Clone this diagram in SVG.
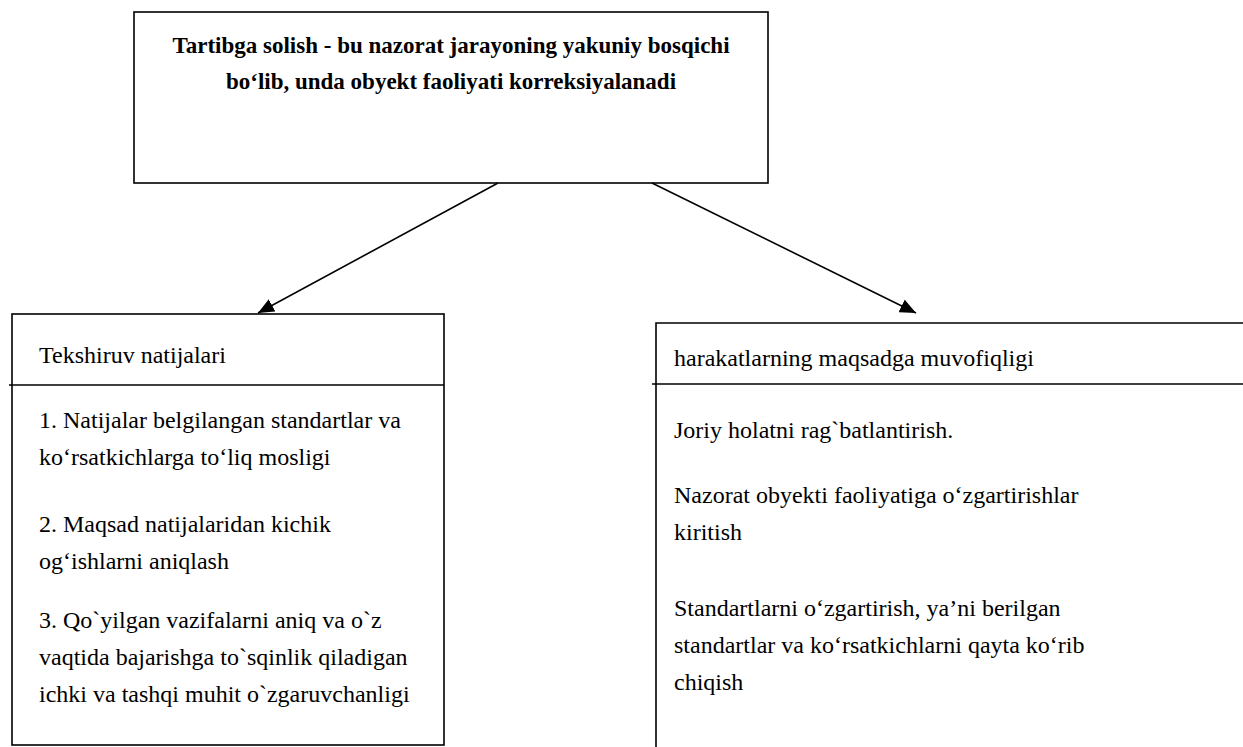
<svg xmlns="http://www.w3.org/2000/svg" width="1243" height="747" viewBox="0 0 1243 747">
<style>
.box{fill:#fff;stroke:#000;stroke-width:1.6}
.ln{stroke:#000;stroke-width:1.6;fill:none}
.t{font-size:24px;fill:#000}
.h{font-size:23px;font-weight:bold;fill:#000;text-anchor:middle}
.c{stroke:#000;stroke-width:1.6;fill:none;marker-end:url(#ah)}
</style>
<defs>
<marker id="ah" viewBox="0 0 16 14" refX="16" refY="7" markerWidth="16" markerHeight="14" markerUnits="userSpaceOnUse" orient="auto">
<path d="M0,0 L16,7 L0,14 z" fill="#000"/>
</marker>
</defs>
<rect width="1243" height="747" fill="#fff"/>
<g id="top" font-family="'Liberation Serif', 'Times New Roman', 'DejaVu Serif', serif">
<rect class="box" x="134" y="12" width="634" height="171"/>
<text class="h" x="451" y="53">Tartibga solish - bu nazorat jarayoning yakuniy bosqichi</text>
<text class="h" x="451" y="89">bo‘lib, unda obyekt faoliyati korreksiyalanadi</text>
</g>
<g id="left" font-family="'Liberation Serif', 'Times New Roman', 'DejaVu Serif', serif">
<rect class="box" x="12" y="314" width="432" height="431"/>
<line class="ln" x1="9" y1="385" x2="444" y2="385"/>
<text class="t" x="39" y="363">Tekshiruv natijalari</text>
<text class="t" x="39" y="428">1. Natijalar belgilangan standartlar va</text>
<text class="t" x="39" y="465">ko‘rsatkichlarga to‘liq mosligi</text>
<text class="t" x="39" y="532">2. Maqsad natijalaridan kichik</text>
<text class="t" x="39" y="569">og‘ishlarni aniqlash</text>
<text class="t" x="39" y="628">3. Qo`yilgan vazifalarni aniq va o`z</text>
<text class="t" x="39" y="665">vaqtida bajarishga to`sqinlik qiladigan</text>
<text class="t" x="39" y="702">ichki va tashqi muhit o`zgaruvchanligi</text>
</g>
<g id="right" font-family="'Liberation Serif', 'Times New Roman', 'DejaVu Serif', serif">
<path class="ln" d="M1250,323 L656,323 L656,750"/>
<line class="ln" x1="652" y1="384" x2="1250" y2="384"/>
<text class="t" x="674" y="366">harakatlarning maqsadga muvofiqligi</text>
<text class="t" x="674" y="438">Joriy holatni rag`batlantirish.</text>
<text class="t" x="674" y="503">Nazorat obyekti faoliyatiga o‘zgartirishlar</text>
<text class="t" x="674" y="540">kiritish</text>
<text class="t" x="674" y="616">Standartlarni o‘zgartirish, ya’ni berilgan</text>
<text class="t" x="674" y="653">standartlar va ko‘rsatkichlarni qayta ko‘rib</text>
<text class="t" x="674" y="690">chiqish</text>
</g>
<g id="connectors">
<line class="c" x1="498" y1="183" x2="258" y2="313"/>
<line class="c" x1="652" y1="183" x2="916" y2="313"/>
</g>
</svg>
